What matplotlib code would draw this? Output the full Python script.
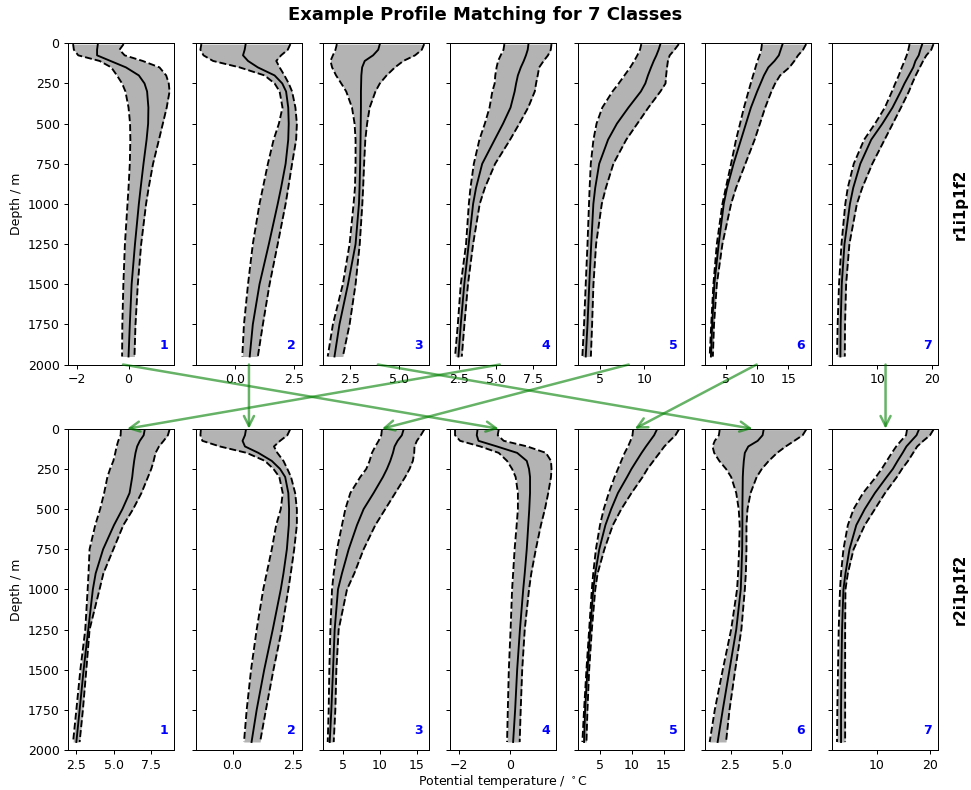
import matplotlib
matplotlib.use('Agg')
import matplotlib.pyplot as plt
from matplotlib.patches import ConnectionPatch

# depth levels (m)
depth = [5, 40, 75, 110, 150, 200, 250, 300, 400, 500, 600, 750, 900, 1000, 1250, 1500, 1750, 1950]

# r1i1p1f2 classes: mean, lower, upper
r1_mean = [
    [-1.19, -1.22, -1.22, -0.7, -0.1, 0.4, 0.62, 0.72, 0.77, 0.76, 0.7, 0.58, 0.47, 0.4, 0.25, 0.12, 0.05, 0.0],
    [0.46, 0.42, 0.35, 0.56, 0.97, 1.67, 1.99, 2.15, 2.24, 2.26, 2.24, 2.13, 1.94, 1.8, 1.43, 1.04, 0.76, 0.63],
    [4.02, 3.94, 3.68, 3.26, 3.13, 3.09, 3.08, 3.07, 3.07, 3.06, 3.05, 3.03, 3.0, 2.97, 2.8, 2.42, 1.99, 1.74],
    [7.22, 7.17, 7.05, 6.9, 6.7, 6.5, 6.38, 6.28, 6.0, 5.49, 4.92, 4.07, 3.65, 3.45, 3.15, 2.85, 2.61, 2.45],
    [11.8, 11.6, 11.35, 11.05, 10.75, 10.4, 10.1, 9.6, 8.2, 6.9, 5.9, 4.9, 4.45, 4.24, 4.0, 3.78, 3.58, 3.38],
    [14.1, 13.8, 13.5, 12.8, 11.8, 11.1, 10.55, 10.0, 9.0, 8.2, 7.4, 6.2, 5.15, 4.62, 3.8, 3.1, 2.75, 2.55],
    [18.25, 17.9, 17.6, 17.0, 16.6, 15.8, 15.0, 14.3, 12.8, 10.95, 8.9, 6.9, 5.6, 5.0, 4.0, 3.5, 3.3, 3.25],
]
r1_lower = [
    [-2.15, -2.12, -1.95, -1.12, -0.67, -0.45, -0.25, -0.12, 0.0, 0.06, 0.07, 0.05, 0.0, -0.04, -0.14, -0.2, -0.24, -0.25],
    [-1.39, -1.43, -1.3, -0.9, 0.21, 1.25, 1.67, 1.88, 2.0, 1.85, 1.63, 1.39, 1.18, 1.04, 0.76, 0.56, 0.39, 0.32],
    [1.86, 1.79, 1.66, 1.54, 1.62, 1.82, 2.08, 2.33, 2.62, 2.75, 2.8, 2.8, 2.77, 2.7, 2.5, 2.16, 1.66, 1.4],
    [5.58, 5.52, 5.33, 5.15, 5.05, 4.96, 4.92, 4.76, 4.57, 4.25, 3.88, 3.5, 3.27, 3.16, 2.97, 2.61, 2.41, 2.22],
    [9.65, 9.5, 9.2, 8.85, 8.4, 7.75, 7.1, 6.4, 5.25, 4.6, 4.25, 3.95, 3.82, 3.75, 3.58, 3.38, 3.19, 3.0],
    [10.78, 10.65, 10.4, 10.05, 9.74, 9.35, 8.97, 8.6, 7.88, 7.25, 6.6, 5.8, 4.95, 4.4, 3.5, 2.95, 2.6, 2.35],
    [15.93, 15.7, 15.4, 15.0, 14.5, 13.95, 13.3, 12.7, 11.4, 9.6, 7.6, 5.7, 4.6, 4.15, 3.45, 3.0, 2.75, 2.63],
]
r1_upper = [
    [-0.19, -0.35, -0.15, 0.55, 1.2, 1.46, 1.56, 1.59, 1.48, 1.33, 1.18, 0.95, 0.78, 0.68, 0.49, 0.36, 0.27, 0.23],
    [2.33, 2.22, 1.94, 1.74, 1.88, 2.08, 2.26, 2.4, 2.54, 2.6, 2.57, 2.4, 2.24, 2.13, 1.8, 1.46, 1.18, 0.97],
    [6.25, 6.13, 5.79, 5.2, 4.78, 4.36, 4.02, 3.8, 3.51, 3.38, 3.29, 3.23, 3.18, 3.14, 3.01, 2.8, 2.5, 2.16],
    [8.79, 8.74, 8.55, 8.25, 7.95, 7.85, 7.74, 7.65, 7.2, 6.6, 5.97, 4.95, 4.25, 3.9, 3.45, 3.1, 2.86, 2.68],
    [13.88, 13.4, 12.85, 12.65, 12.55, 12.45, 12.38, 11.8, 10.45, 9.2, 7.95, 6.5, 5.65, 5.19, 4.55, 4.25, 4.1, 3.96],
    [17.9, 17.4, 16.6, 16.0, 15.2, 13.7, 12.9, 12.3, 11.3, 10.45, 9.6, 8.1, 6.6, 5.8, 4.4, 3.5, 3.05, 2.86],
    [20.3, 19.9, 19.0, 18.4, 17.8, 17.05, 16.4, 15.8, 14.35, 12.85, 11.35, 9.1, 7.25, 6.27, 4.9, 4.3, 4.1, 4.06],
]

# r2i1p1f2 classes
r2_mean = [
    [7.1, 7.03, 6.77, 6.59, 6.48, 6.39, 6.32, 6.26, 6.08, 5.6, 5.03, 4.3, 3.8, 3.61, 3.3, 2.99, 2.72, 2.5],
    [0.55, 0.51, 0.41, 0.51, 1.06, 1.61, 1.95, 2.16, 2.29, 2.32, 2.31, 2.23, 2.09, 1.98, 1.65, 1.3, 0.99, 0.78],
    [13.2, 12.97, 12.39, 11.98, 11.76, 11.4, 10.95, 10.41, 9.14, 7.79, 6.89, 5.77, 4.86, 4.32, 3.87, 3.65, 3.42, 3.2],
    [-1.28, -1.31, -1.24, -0.51, 0.29, 0.67, 0.76, 0.8, 0.8, 0.77, 0.73, 0.67, 0.59, 0.53, 0.4, 0.29, 0.21, 0.13],
    [13.94, 13.51, 12.87, 12.23, 11.54, 10.74, 9.95, 9.26, 7.82, 6.76, 5.85, 4.89, 4.26, 3.94, 3.46, 3.03, 2.66, 2.5],
    [4.12, 4.07, 3.83, 3.37, 3.2, 3.15, 3.12, 3.1, 3.09, 3.08, 3.08, 3.07, 3.03, 3.0, 2.78, 2.45, 2.12, 1.87],
    [17.96, 17.52, 16.56, 15.61, 14.9, 13.95, 13.06, 11.91, 9.68, 7.77, 6.18, 4.9, 4.14, 3.76, 3.5, 3.38, 3.31, 3.31],
]
r2_lower = [
    [5.5, 5.48, 5.32, 5.21, 5.12, 4.99, 4.77, 4.59, 4.37, 4.1, 3.77, 3.39, 3.32, 3.26, 3.1, 2.77, 2.5, 2.28],
    [-1.3, -1.32, -1.24, -0.52, 0.58, 1.33, 1.68, 1.92, 2.06, 1.98, 1.79, 1.61, 1.4, 1.26, 0.99, 0.76, 0.58, 0.47],
    [10.27, 10.18, 9.82, 9.37, 8.92, 8.6, 8.15, 7.34, 5.99, 5.32, 4.86, 4.19, 3.74, 3.51, 3.29, 3.15, 3.06, 2.93],
    [-2.17, -2.17, -1.97, -1.17, -0.44, -0.11, 0.09, 0.23, 0.32, 0.32, 0.27, 0.19, 0.13, 0.09, 0.03, -0.04, -0.08, -0.11],
    [10.21, 10.11, 9.79, 9.41, 8.88, 8.35, 7.82, 7.29, 6.38, 5.59, 5.0, 4.36, 3.94, 3.72, 3.3, 2.87, 2.5, 2.23],
    [1.97, 1.93, 1.73, 1.62, 1.7, 1.95, 2.28, 2.53, 2.78, 2.9, 2.95, 2.92, 2.87, 2.82, 2.53, 2.12, 1.73, 1.48],
    [15.73, 15.54, 14.59, 13.69, 12.87, 11.91, 10.96, 9.87, 7.45, 5.67, 4.59, 3.76, 3.31, 3.12, 2.87, 2.74, 2.61, 2.55],
]
r2_upper = [
    [8.77, 8.66, 8.37, 8.06, 7.83, 7.7, 7.54, 7.32, 6.88, 6.32, 5.66, 4.99, 4.32, 4.06, 3.39, 3.17, 2.94, 2.72],
    [2.36, 2.25, 1.95, 1.7, 1.84, 2.09, 2.25, 2.4, 2.57, 2.64, 2.64, 2.53, 2.39, 2.29, 2.02, 1.68, 1.37, 1.13],
    [15.99, 15.54, 15.0, 14.68, 14.64, 14.46, 14.01, 13.42, 12.07, 10.72, 9.37, 7.79, 6.53, 5.54, 4.41, 4.1, 3.96, 3.74],
    [-0.44, -0.48, -0.24, 0.69, 1.43, 1.63, 1.65, 1.63, 1.52, 1.39, 1.23, 1.03, 0.85, 0.76, 0.59, 0.49, 0.43, 0.39],
    [17.39, 16.86, 15.96, 15.11, 14.36, 13.4, 12.45, 11.7, 9.95, 8.35, 7.02, 5.69, 4.63, 4.26, 3.72, 3.3, 3.03, 2.87],
    [6.2, 6.03, 5.62, 5.2, 4.78, 4.37, 4.03, 3.78, 3.48, 3.33, 3.28, 3.28, 3.25, 3.2, 3.03, 2.73, 2.45, 2.28],
    [20.7, 20.06, 18.79, 17.64, 16.88, 15.92, 14.78, 13.82, 11.59, 9.68, 7.77, 5.67, 4.59, 4.14, 4.08, 4.08, 4.08, 4.08],
]

# which r2 class each r1 class is matched to (1-based)
match = [4, 2, 6, 1, 3, 5, 7]

r1_ticks = [[-2, 0], [0.0, 2.5], [2.5, 5.0], [2.5, 5.0, 7.5], [5, 10], [5, 10, 15], [10, 20]]
r2_ticks = [[2.5, 5.0, 7.5], [0.0, 2.5], [5, 10, 15], [-2, 0], [5, 10, 15], [2.5, 5.0], [10, 20]]

runs = ['r1i1p1f2', 'r2i1p1f2']

# arrow anchor positions (axes fraction)
arrow_start = [0.516, 0.503, 0.518, 0.467, 0.482, 0.488, 0.503]
arrow_end = [0.458, 0.503, 0.45, 0.554, 0.556, 0.539, 0.503]


def main():
    fig, axes = plt.subplots(2, 7, figsize=(971 / 90, 790 / 90), dpi=90)
    plt.subplots_adjust(left=0.0703, right=0.9663, top=0.9452, bottom=0.0506,
                        wspace=0.2, hspace=0.2)

    rows = [(r1_mean, r1_lower, r1_upper, r1_ticks),
            (r2_mean, r2_lower, r2_upper, r2_ticks)]

    for r, (means, lows, ups, ticks) in enumerate(rows):
        for c in range(7):
            ax = axes[r, c]
            ax.fill_betweenx(depth, lows[c], ups[c], color='0.7', lw=0)
            ax.plot(lows[c], depth, 'k--', lw=1.5)
            ax.plot(ups[c], depth, 'k--', lw=1.5)
            ax.plot(means[c], depth, 'k-', lw=1.5)
            ax.set_ylim(2000, 0)
            ax.set_yticks(range(0, 2001, 250))
            ax.set_xticks(ticks[c])
            if c == 0:
                ax.set_ylabel('Depth / m')
            else:
                ax.set_yticklabels([])
            ax.text(0.9, 0.06, str(c + 1), transform=ax.transAxes, color='blue',
                    fontweight='bold', ha='center', va='center')

    axes[1, 3].set_xlabel(r'Potential temperature / $^\circ$C', labelpad=1)

    fig.suptitle('Example Profile Matching for 7 Classes', fontsize='x-large',
                 fontweight='bold', y=0.981, va='center')

    for r, name in enumerate(runs):
        pos = axes[r, 0].get_position()
        fig.text(0.9887, (pos.y0 + pos.y1) / 2, name, rotation=90, ha='center',
                 va='center', fontsize='large', fontweight='bold')

    for i in range(7):
        j = match[i] - 1
        con = ConnectionPatch(xyA=(arrow_start[i], 0), coordsA='axes fraction', axesA=axes[0, i],
                              xyB=(arrow_end[i], 1), coordsB='axes fraction', axesB=axes[1, j],
                              arrowstyle='->', color='green', alpha=0.6, lw=2,
                              mutation_scale=20, shrinkA=0, shrinkB=0)
        fig.add_artist(con)

    fig.savefig('out.png', dpi=90)


if __name__ == '__main__':
    main()
